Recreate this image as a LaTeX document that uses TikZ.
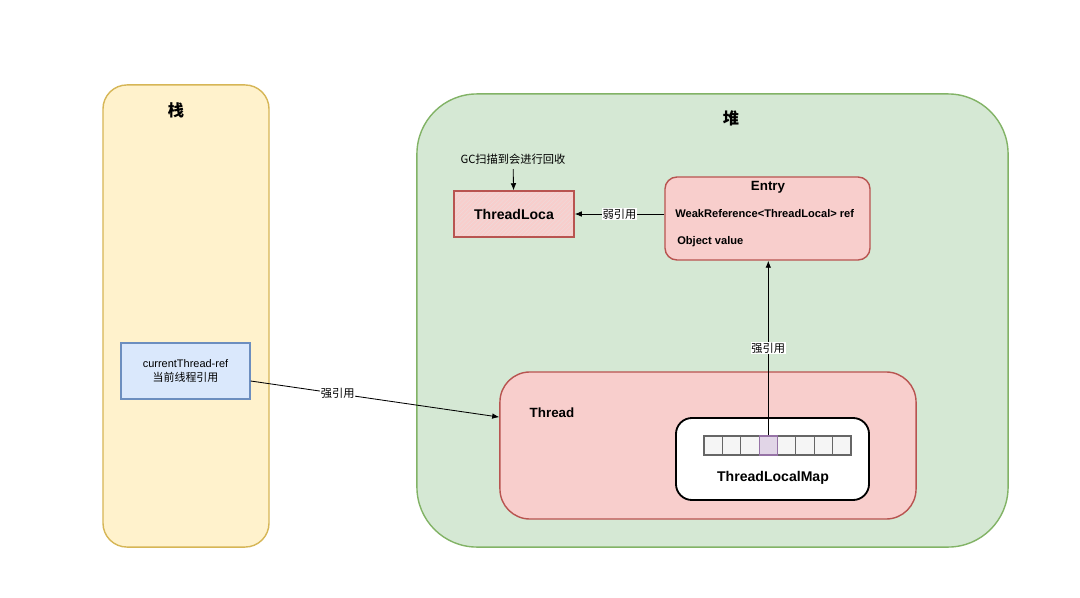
\documentclass[tikz,border=0pt]{standalone}
\usepackage{fontspec}
\setmainfont{Liberation Sans}
\newfontfamily\cjk{Noto Sans CJK SC}
\usepackage{tikz}
\usetikzlibrary{patterns}
\usetikzlibrary{shapes,positioning,calc}
\usetikzlibrary{arrows.meta}
\definecolor{giallo}{HTML}{FFF2CC}
\definecolor{gialloD}{HTML}{D6B656}
\definecolor{verde}{HTML}{D5E8D4}
\definecolor{verdeD}{HTML}{82B366}
\definecolor{rosso}{HTML}{F8CECC}
\definecolor{rossoD}{HTML}{B85450}
\definecolor{blu}{HTML}{DAE8FC}
\definecolor{bluD}{HTML}{6C8EBF}
\definecolor{viola}{HTML}{E1D5E7}
\definecolor{violaD}{HTML}{9673A6}
\definecolor{grigio}{HTML}{F5F5F5}
\definecolor{grigioD}{HTML}{666666}
\tikzstyle{contenitore} = [rectangle, line width=1pt, inner sep=0pt]
\tikzstyle{blocco} = [rectangle, line width=1pt, text centered, inner sep=0pt]
\tikzstyle{cella} = [rectangle, minimum width=0.459cm, minimum height=0.475cm, fill=grigio, draw=grigioD, line width=0.8pt, inner sep=0pt]
\tikzstyle{etichetta} = [fill=white, inner sep=0.5pt, font=\cjk\fontsize{8}{9.5}\selectfont]
\tikzstyle{arrow} = [line width=0.6pt,-{Latex[length=5pt,width=4pt]}]

\begin{document}
\begin{tikzpicture}[x=0.025cm,y=-0.025cm]
\useasboundingbox (0,0) rectangle (1080,598);
\node (s) at (186,316) [contenitore, fill=giallo, draw=gialloD, rounded corners=0.6cm, minimum width=4.15cm, minimum height=11.55cm] {};
\node (ts) at (176,110) {\cjk\bfseries\fontsize{11.5}{13}\selectfont 栈};
\node (h) at (712.5,320.5) [contenitore, fill=verde, draw=verdeD, rounded corners=1.5cm, minimum width=14.775cm, minimum height=11.325cm] {};
\node (th) at (731,118) {\cjk\bfseries\fontsize{11.5}{13}\selectfont 堆};
\node (cr) at (185.5,371) [blocco, fill=blu, draw=bluD, minimum width=3.225cm, minimum height=1.4cm, align=center, font=\fontsize{7.8}{9.5}\selectfont] {currentThread-ref\\{\cjk 当前线程引用}};
\node (tl) at (514,214) [blocco, fill=rosso, postaction={pattern=north east lines, pattern color=rossoD!22}, postaction={draw=rossoD, line width=1pt}, minimum width=3cm, minimum height=1.15cm, font=\bfseries\fontsize{10}{12}\selectfont] {ThreadLoca};
\node (gc) at (513,159) [font=\cjk\fontsize{8}{9.5}\selectfont] {GC扫描到会进行回收};
\node (e) at (767.5,218.5) [blocco, fill=rosso, draw=rossoD, rounded corners=0.3cm, minimum width=5.125cm, minimum height=2.075cm] {};
\node (et) at (768,187) [font=\bfseries\fontsize{9.5}{11}\selectfont] {Entry};
\node (wr) at (675,214) [anchor=west, inner sep=0pt, font=\bfseries\fontsize{7.9}{9.5}\selectfont] {WeakReference<ThreadLocal> ref};
\node (ov) at (677,242) [anchor=west, inner sep=0pt, font=\bfseries\fontsize{7.9}{9.5}\selectfont] {Object value};
\node (t) at (708,445.5) [contenitore, fill=rosso, draw=rossoD, rounded corners=0.75cm, minimum width=10.4cm, minimum height=3.675cm] {};
\node (tt) at (552,413) [font=\bfseries\fontsize{9.5}{11}\selectfont] {Thread};
\node (m) at (772.5,459) [contenitore, fill=white, draw=black, line width=1.3pt, rounded corners=0.4cm, minimum width=4.825cm, minimum height=2.05cm] {};
\foreach \i in {1,...,8}
	\node (c\i) at ({704+18.375*(\i-0.5)},445.5) [cella] {};
\node (c4) at (c4) [cella, fill=viola, draw=violaD] {};
\node (mt) at (773,478) [font=\bfseries\fontsize{10}{12}\selectfont] {ThreadLocalMap};
\draw[arrow] (gc) -- (tl);
\draw[arrow] (e.west |- wr) -- node[etichetta] {弱引用} (tl.east |- wr);
\draw[arrow] (c4.north) -- node[etichetta] {强引用} (e.south -| c4);
\draw[arrow] ([yshift=-0.25cm]cr.east) -- node[etichetta, pos=0.35] {强引用} ([yshift=0.71cm]t.west);
\end{tikzpicture}
\end{document}
